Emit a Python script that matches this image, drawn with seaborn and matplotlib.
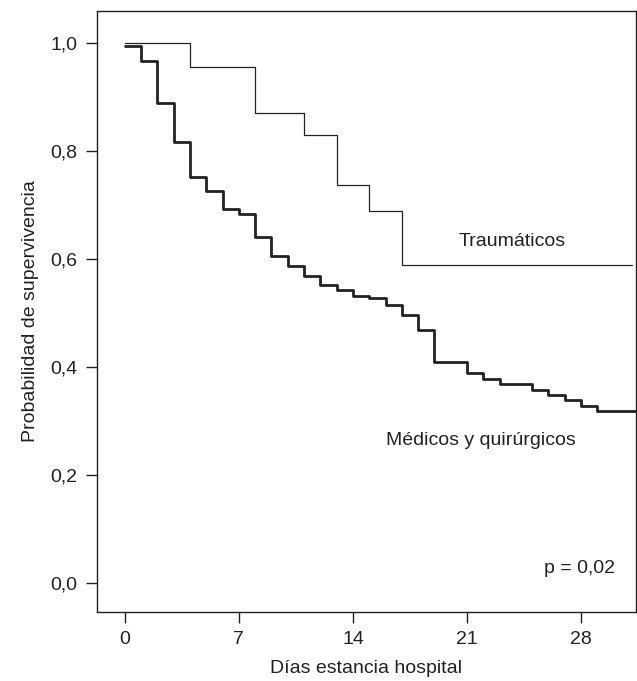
import numpy as np
import pandas as pd
import matplotlib
matplotlib.use("Agg")
import matplotlib.pyplot as plt
import seaborn as sns

# Kaplan-Meier step values
trauma_days = [0, 4, 8, 11, 13, 15, 17, 31.1]
trauma_surv = [1.0, 0.956, 0.871, 0.830, 0.737, 0.688, 0.589, 0.589]

medic_days = [0, 1, 2, 3, 4, 5, 6, 7, 8, 9, 10, 11, 12, 13, 14, 15, 16, 17,
              18, 19, 21, 22, 23, 25, 26, 27, 28, 29, 31.5]
medic_surv = [0.995, 0.967, 0.889, 0.817, 0.752, 0.726, 0.692, 0.683, 0.640,
              0.606, 0.587, 0.569, 0.551, 0.542, 0.532, 0.527, 0.515, 0.496,
              0.469, 0.409, 0.389, 0.378, 0.368, 0.357, 0.348, 0.339, 0.328,
              0.319, 0.319]

x_ticks = [0, 7, 14, 21, 28]
y_ticks = [0.0, 0.2, 0.4, 0.6, 0.8, 1.0]

sns.set_style("ticks")
plt.rcParams['font.family'] = ['Liberation Sans', 'DejaVu Sans']
plt.rcParams['font.size'] = 14

trauma_df = pd.DataFrame({'dias': trauma_days, 'surv': trauma_surv})
medic_df = pd.DataFrame({'dias': medic_days, 'surv': medic_surv})

fig = plt.figure(figsize=(6.37, 6.81), dpi=100)
ax = fig.add_axes([0.152, 0.1013, 0.8464, 0.8825])

line_color = '#222222'
sns.lineplot(data=trauma_df, x='dias', y='surv', ax=ax, drawstyle='steps-post',
             estimator=None, sort=False, color=line_color, linewidth=0.9)
sns.lineplot(data=medic_df, x='dias', y='surv', ax=ax, drawstyle='steps-post',
             estimator=None, sort=False, color=line_color, linewidth=2.0)

ax.set_xlim(-1.72, 31.37)
ax.set_ylim(-0.054, 1.059)
ax.set_xticks(x_ticks)
ax.set_xticklabels([str(t) for t in x_ticks])
ax.set_yticks(y_ticks)
ax.set_yticklabels([f"{t:.1f}".replace('.', ',') for t in y_ticks])

ax.tick_params(direction='out', length=8, width=1, colors='#222222',
               labelsize=14, pad=6)
for side in ['left', 'right', 'top', 'bottom']:
    ax.spines[side].set_visible(True)
    ax.spines[side].set_linewidth(1.0)
    ax.spines[side].set_color('#222222')

ax.set_xlabel('Días estancia hospital', fontsize=14, color='#222222', labelpad=8)
ax.set_ylabel('Probabilidad de supervivencia', fontsize=14, color='#222222', labelpad=8)

ax.text(23.8, 0.633, 'Traumáticos', ha='center', va='center', fontsize=14, color='#222222')
ax.text(21.85, 0.263, 'Médicos y quirúrgicos', ha='center', va='center', fontsize=14, color='#222222')
ax.text(27.9, 0.026, 'p = 0,02', ha='center', va='center', fontsize=14, color='#222222')

fig.savefig('out.png', dpi=100)
